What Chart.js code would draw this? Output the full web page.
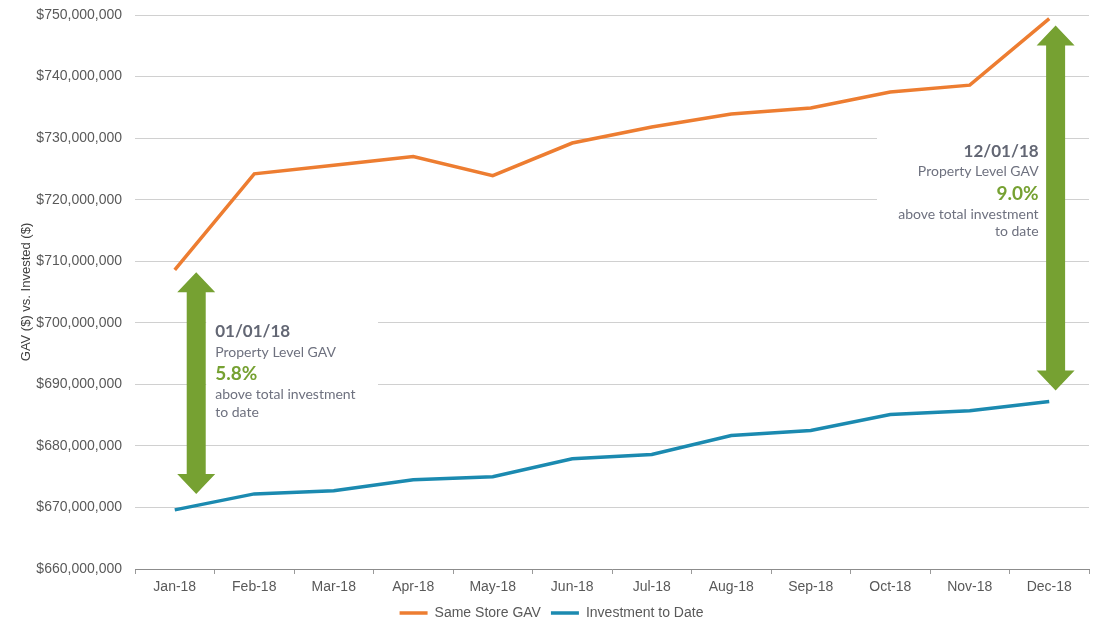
<!DOCTYPE html>
<html>
<head>
<meta charset="utf-8">
<script src="https://cdn.jsdelivr.net/npm/chart.js@4.4.0/dist/chart.umd.min.js"></script>
<style>
  html, body { margin: 0; padding: 0; background: #ffffff; }
  #wrap { width: 1103px; height: 634px; position: relative; }
</style>
</head>
<body>
<div id="wrap"><canvas id="c" width="1103" height="634"></canvas></div>
<script>
const categories = ['Jan-18','Feb-18','Mar-18','Apr-18','May-18','Jun-18','Jul-18','Aug-18','Sep-18','Oct-18','Nov-18','Dec-18'];
const sameStoreGAV = [708600000, 724200000, 725600000, 727000000, 723900000, 729200000, 731800000, 733900000, 734900000, 737500000, 738600000, 749400000];
const investmentToDate = [669600000, 672200000, 672700000, 674500000, 675000000, 677900000, 678600000, 681700000, 682500000, 685100000, 685700000, 687200000];
const yTickValues = [660000000, 670000000, 680000000, 690000000, 700000000, 710000000, 720000000, 730000000, 740000000, 750000000];

const annLeftLines = ['01/01/18', 'Property Level GAV', '5.8%', 'above total investment', 'to date'];
const annRightLines = ['12/01/18', 'Property Level GAV', '9.0%', 'above total investment', 'to date'];

const ORANGE = '#ED7D31';
const BLUE = '#1B8AB0';
const GREEN = '#76A132';
const TXT = '#6E717F';
const DATE_TXT = '#636774';

// annotation geometry (in data units: category index, value)
const arrows = [
  { xi: 0.27, yTop: 708200000, yBot: 672200000 },
  { xi: 11.08, yTop: 748300000, yBot: 689000000 }
];

function drawArrow(ctx, x, yTop, yBot) {
  const shaftW = 19, headW = 38, headH = 20;
  ctx.save();
  ctx.fillStyle = GREEN;
  ctx.beginPath();
  ctx.moveTo(x, yTop);
  ctx.lineTo(x + headW / 2, yTop + headH);
  ctx.lineTo(x + shaftW / 2, yTop + headH);
  ctx.lineTo(x + shaftW / 2, yBot - headH);
  ctx.lineTo(x + headW / 2, yBot - headH);
  ctx.lineTo(x, yBot);
  ctx.lineTo(x - headW / 2, yBot - headH);
  ctx.lineTo(x - shaftW / 2, yBot - headH);
  ctx.lineTo(x - shaftW / 2, yTop + headH);
  ctx.lineTo(x - headW / 2, yTop + headH);
  ctx.closePath();
  ctx.fill();
  ctx.restore();
}

function drawNote(ctx, lines, x, baselines, align) {
  ctx.save();
  ctx.textAlign = align;
  ctx.textBaseline = 'alphabetic';
  lines.forEach((t, i) => {
    if (i === 0) { ctx.font = 'bold 17px Lato'; ctx.fillStyle = DATE_TXT; }
    else if (i === 2) { ctx.font = 'bold 19px Lato'; ctx.fillStyle = GREEN; }
    else { ctx.font = '14px Lato'; ctx.fillStyle = TXT; }
    ctx.fillText(t, x, baselines[i]);
  });
  ctx.restore();
}

const annotationPlugin = {
  id: 'gavNotes',
  beforeDatasetsDraw(chart) {
    const ctx = chart.ctx;
    const xs = chart.scales.x, ys = chart.scales.y;
    ctx.save();
    ctx.fillStyle = '#ffffff';
    const lx = xs.getPixelForValue(0.27) + 10;
    const lt = ys.getPixelForValue(702100000);
    ctx.fillRect(lx, lt, 378 - lx, 115);
    const rx = xs.getPixelForValue(11.08);
    const rt = ys.getPixelForValue(731300000);
    ctx.fillRect(877, rt, rx - 877, 120);
    ctx.restore();
  },
  afterDatasetsDraw(chart) {
    const ctx = chart.ctx;
    const xs = chart.scales.x, ys = chart.scales.y;
    arrows.forEach(a => {
      drawArrow(ctx, xs.getPixelForValue(a.xi), ys.getPixelForValue(a.yTop), ys.getPixelForValue(a.yBot));
    });
    const lx = xs.getPixelForValue(0.27) + 19;
    const lb = ys.getPixelForValue(697700000);
    drawNote(ctx, annLeftLines, lx, [lb, lb + 20, lb + 43, lb + 62, lb + 80], 'left');
    const rx = xs.getPixelForValue(11.08) - 17;
    const rb = ys.getPixelForValue(726900000);
    drawNote(ctx, annRightLines, rx, [rb, rb + 19, rb + 43, rb + 62, rb + 79], 'right');
  }
};

const ctx = document.getElementById('c').getContext('2d');
new Chart(ctx, {
  type: 'line',
  data: {
    labels: categories,
    datasets: [
      { label: 'Same Store GAV', data: sameStoreGAV, borderColor: ORANGE, backgroundColor: ORANGE, borderWidth: 3.5, pointRadius: 0, tension: 0, pointStyle: 'line' },
      { label: 'Investment to Date', data: investmentToDate, borderColor: BLUE, backgroundColor: BLUE, borderWidth: 3.5, pointRadius: 0, tension: 0, pointStyle: 'line' }
    ]
  },
  options: {
    responsive: false,
    animation: false,
    devicePixelRatio: 1,
    layout: { padding: { left: 14, right: 14, top: 15, bottom: 4 } },
    plugins: {
      legend: {
        position: 'bottom',
        labels: {
          usePointStyle: true,
          pointStyle: 'line',
          pointStyleWidth: 28,
          padding: 10,
          color: '#595959',
          font: { family: 'Liberation Sans, Arial', size: 14 }
        }
      },
      tooltip: { enabled: false }
    },
    scales: {
      x: {
        offset: true,
        grid: { offset: true, drawOnChartArea: false, drawTicks: true, tickLength: 5, color: '#9a9a9a' },
        border: { color: '#8c8c8c', width: 1 },
        ticks: { color: '#595959', padding: 5, font: { family: 'Liberation Sans, Arial', size: 14 }, maxRotation: 0 },
        afterFit(scale) { scale.height = 27; scale.paddingLeft = 0; scale.paddingRight = 0; }
      },
      y: {
        min: 660000000,
        max: 750000000,
        afterBuildTicks(scale) { scale.ticks = yTickValues.map(v => ({ value: v })); },
        grid: { color: '#d0d0d0', drawTicks: false, lineWidth: 1 },
        border: { display: false },
        ticks: {
          color: '#595959',
          padding: 13,
          font: { family: 'Liberation Sans, Arial', size: 14 },
          callback: v => '$' + Number(v).toLocaleString('en-US')
        },
        title: {
          display: true,
          text: 'GAV ($) vs. Invested ($)',
          color: '#404040',
          font: { family: 'Liberation Sans, Arial', size: 13 },
          padding: { top: 5, bottom: 0 }
        },
        afterFit(scale) { scale.width = 135 - 14; scale.paddingTop = 0; scale.paddingBottom = 0; }
      }
    }
  },
  plugins: [annotationPlugin]
});
</script>
</body>
</html>
